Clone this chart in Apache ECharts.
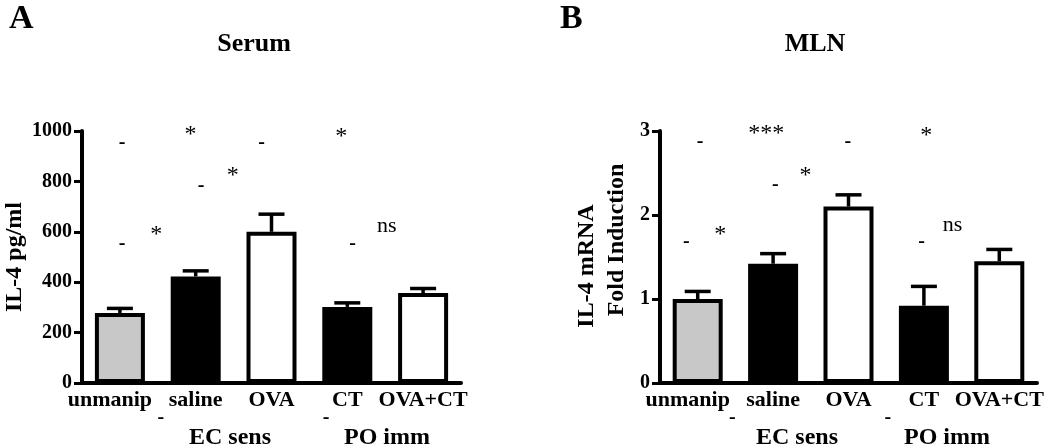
<!DOCTYPE html>
<html>
<head>
<meta charset="utf-8">
<script src="https://cdn.jsdelivr.net/npm/echarts@6/dist/echarts.min.js"></script>
<style>
html,body{margin:0;padding:0;background:#fff;}
#chart{width:1050px;height:447px;}
</style>
</head>
<body>
<div id="chart"></div>
<script>
// ---- data ----
var categories = ['unmanip', 'saline', 'OVA', 'CT', 'OVA+CT'];
var barColors = ['#c8c8c8', '#000000', '#ffffff', '#000000', '#ffffff'];
var serumMean = [278, 423, 600, 302, 357];
var serumErr = [18, 22, 70, 16, 18];
var mlnMean = [1.0, 1.42, 2.1, 0.92, 1.45];
var mlnErr = [0.09, 0.12, 0.14, 0.23, 0.14];
var serumTicks = [0, 200, 400, 600, 800, 1000];
var mlnTicks = [0, 1, 2, 3];
// annotations: [x position (category units), y value, text]
var serumNotes = [
  [0.03, 953, '-'], [0.93, 985, '*'], [1.87, 953, '-'], [2.92, 977, '*'],
  [1.07, 783, '-'], [1.49, 822, '*'],
  [0.03, 553, '-'], [0.48, 589, '*'],
  [3.07, 553, '-'], [3.52, 623, 'ns'],
  [0.54, -140, '-'], [2.72, -140, '-']
];
var mlnNotes = [
  [0.03, 2.876, '-'], [0.91, 2.971, '***'], [1.99, 2.876, '-'], [3.03, 2.947, '*'],
  [1.03, 2.362, '-'], [1.43, 2.470, '*'],
  [-0.15, 1.681, '-'], [0.30, 1.765, '*'],
  [2.97, 1.681, '-'], [3.38, 1.878, 'ns'],
  [0.46, -0.42, '-'], [2.52, -0.42, '-']
];

var FONT = "'Liberation Serif','Times New Roman',serif";

function barData(vals) {
  return vals.map(function (v, i) {
    return { value: v, itemStyle: { color: barColors[i] } };
  });
}
function errData(means, errs) {
  return means.map(function (m, i) { return [i, m, errs[i]]; });
}
function errRender(params, api) {
  var i = api.value(0), m = api.value(1), e = api.value(2);
  var p0 = api.coord([i, m]);
  var p1 = api.coord([i, m + e]);
  var half = 13;
  var st = { stroke: '#000', lineWidth: 3.5 };
  return {
    type: 'group',
    children: [
      { type: 'line', shape: { x1: p0[0], y1: p0[1], x2: p1[0], y2: p1[1] }, style: st },
      { type: 'line', shape: { x1: p1[0] - half, y1: p1[1], x2: p1[0] + half, y2: p1[1] }, style: st }
    ]
  };
}
function noteSeries(notes, xi, yi) {
  return {
    type: 'scatter',
    xAxisIndex: xi, yAxisIndex: yi,
    clip: false,
    symbolSize: 1,
    itemStyle: { color: 'transparent' },
    silent: true,
    z: 10,
    data: notes.map(function (n) {
      var isDash = n[2] === '-';
      return {
        value: [n[0], n[1], n[2]],
        label: {
          fontSize: isDash ? 20 : (n[2] === 'ns' ? 22 : 24),
          fontWeight: isDash ? 'bold' : 'normal'
        }
      };
    }),
    label: {
      show: true, position: 'inside',
      formatter: function (p) { return p.data.value[2]; },
      fontFamily: FONT, color: '#000',
      textBorderWidth: 0, opacity: 1
    },
    encode: { x: 0, y: 1 }
  };
}

var catAxisData = categories.map(function (c, i) {
  return i === 0 ? { value: c, textStyle: { padding: [0, 20, 0, 0] } } : c;
});
var catAxisBase = {
  type: 'category',
  data: catAxisData,
  axisLine: { onZero: false, lineStyle: { color: '#000', width: 4 } },
  axisTick: { show: false },
  axisLabel: { color: '#000', fontFamily: FONT, fontWeight: 'bold', fontSize: 22, margin: 6, interval: 0 }
};
function valAxis(grid, min, max, interval) {
  return {
    type: 'value', gridIndex: grid, min: min, max: max, interval: interval,
    axisLine: { show: true, onZero: false, lineStyle: { color: '#000', width: 4 } },
    axisTick: { show: true, inside: false, length: 8, lineStyle: { color: '#000', width: 3 } },
    axisLabel: { color: '#000', fontFamily: FONT, fontWeight: 'bold', fontSize: 20, margin: 10,
      formatter: function (v) { return String(v); } },
    splitLine: { show: false }
  };
}

var chart = echarts.init(document.getElementById('chart'), null, { renderer: 'canvas' });
var option = {
  backgroundColor: '#fff',
  animation: false,
  title: [
    { text: 'A', left: 4, top: -3, textStyle: { fontFamily: FONT, fontWeight: 'bold', fontSize: 34, color: '#000' } },
    { text: 'Serum', left: 249, top: 26, textAlign: 'center', textStyle: { fontFamily: FONT, fontWeight: 'bold', fontSize: 26, color: '#000' } },
    { text: 'B', left: 555, top: -3, textStyle: { fontFamily: FONT, fontWeight: 'bold', fontSize: 34, color: '#000' } },
    { text: 'MLN', left: 810, top: 26, textAlign: 'center', textStyle: { fontFamily: FONT, fontWeight: 'bold', fontSize: 26, color: '#000' } }
  ],
  grid: [
    { left: 82, width: 379, top: 131, height: 252, containLabel: false },
    { left: 660, width: 377, top: 131, height: 252, containLabel: false }
  ],
  xAxis: [
    Object.assign({}, catAxisBase, { gridIndex: 0 }),
    Object.assign({}, catAxisBase, { gridIndex: 1 }),
    { type: 'value', gridIndex: 0, min: -0.5, max: 4.5, show: false },
    { type: 'value', gridIndex: 1, min: -0.5, max: 4.5, show: false }
  ],
  yAxis: [
    valAxis(0, serumTicks[0], serumTicks[serumTicks.length - 1], 200),
    valAxis(1, mlnTicks[0], mlnTicks[mlnTicks.length - 1], 1)
  ],
  series: [
    { type: 'bar', xAxisIndex: 0, yAxisIndex: 0, barWidth: 50, data: barData(serumMean),
      itemStyle: { borderColor: '#000', borderWidth: 4 } },
    { type: 'custom', xAxisIndex: 0, yAxisIndex: 0, renderItem: errRender, data: errData(serumMean, serumErr), z: 5,
      encode: { x: 0, y: [1, 2] } },
    { type: 'bar', xAxisIndex: 1, yAxisIndex: 1, barWidth: 50, data: barData(mlnMean),
      itemStyle: { borderColor: '#000', borderWidth: 4 } },
    { type: 'custom', xAxisIndex: 1, yAxisIndex: 1, renderItem: errRender, data: errData(mlnMean, mlnErr), z: 5,
      encode: { x: 0, y: [1, 2] } },
    noteSeries(serumNotes, 2, 0),
    noteSeries(mlnNotes, 3, 1)
  ],
  graphic: [
    { type: 'text', x: 15, y: 257, rotation: Math.PI / 2,
      style: { text: 'IL-4 pg/ml', font: 'bold 24px ' + FONT, fill: '#000', textAlign: 'center', textVerticalAlign: 'middle' } },
    { type: 'text', x: 587, y: 266, rotation: Math.PI / 2,
      style: { text: 'IL-4 mRNA', font: 'bold 24px ' + FONT, fill: '#000', textAlign: 'center', textVerticalAlign: 'middle' } },
    { type: 'text', x: 617, y: 240, rotation: Math.PI / 2,
      style: { text: 'Fold Induction', font: 'bold 24px ' + FONT, fill: '#000', textAlign: 'center', textVerticalAlign: 'middle' } },
    { type: 'text', x: 230, y: 438,
      style: { text: 'EC sens', font: 'bold 24px ' + FONT, fill: '#000', textAlign: 'center', textVerticalAlign: 'middle' } },
    { type: 'text', x: 387, y: 438,
      style: { text: 'PO imm', font: 'bold 24px ' + FONT, fill: '#000', textAlign: 'center', textVerticalAlign: 'middle' } },
    { type: 'text', x: 797, y: 438,
      style: { text: 'EC sens', font: 'bold 24px ' + FONT, fill: '#000', textAlign: 'center', textVerticalAlign: 'middle' } },
    { type: 'text', x: 947, y: 438,
      style: { text: 'PO imm', font: 'bold 24px ' + FONT, fill: '#000', textAlign: 'center', textVerticalAlign: 'middle' } }
  ]
};
chart.setOption(option);
</script>
</body>
</html>
